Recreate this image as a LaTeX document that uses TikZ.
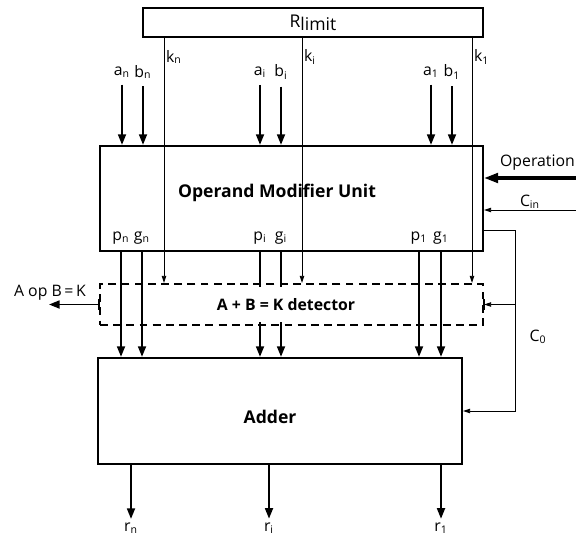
\documentclass[tikz,border=0pt]{standalone}
\usepackage{fontspec}
\setmainfont{Open Sans}
\usetikzlibrary{arrows.meta, positioning, calc}

\tikzset{
  unit/.style={draw, line width=1.3pt, inner sep=0pt},
  sig/.style={-{Triangle[length=6pt,width=4.5pt]}, line width=1.1pt},
  thinsig/.style={-{Triangle[length=4pt,width=2.5pt]}, line width=0.5pt},
  lbl/.style={font=\small, inner sep=1pt},
  title/.style={font=\bfseries},
}

\begin{document}
\begin{tikzpicture}
    \useasboundingbox (0,0) rectangle (11.52,-10.8);

    % blocks
    \node[unit, minimum width=6.8cm, minimum height=0.58cm] (rlim) at (6.26,-0.45) {R\raisebox{-1.5pt}{limit}};
    \node[unit, minimum width=7.66cm, minimum height=2.1cm] (omu) at (5.83,-3.97) {};
    \node[title] (omulbl) at (5.54,-3.86) {Operand Modifier Unit};
    \node[unit, dashed, dash pattern=on 4.5pt off 3pt, minimum width=7.66cm, minimum height=0.82cm] (det) at (5.83,-6.09) {};
    \node[unit, minimum width=7.28cm, minimum height=2.12cm] (add) at (5.6,-8.22) {};
    \node[title] (addlbl) at (5.4,-8.34) {Adder};

    % operand inputs
    \node[lbl] (an) at (2.44,-1.44) {a\textsubscript{n}};
    \node[lbl] (bn) at (2.86,-1.44) {b\textsubscript{n}};
    \node[lbl] (ai) at (5.2,-1.44) {a\textsubscript{i}};
    \node[lbl] (bi) at (5.62,-1.44) {b\textsubscript{i}};
    \node[lbl] (a1) at (8.62,-1.44) {a\textsubscript{1}};
    \node[lbl] (b1) at (9.04,-1.44) {b\textsubscript{1}};

    \draw[sig] ([yshift=-3pt]an.south) -- (an |- omu.north);
    \draw[sig] ([yshift=-3pt]bn.south) -- (bn |- omu.north);
    \draw[sig] ([yshift=-3pt]ai.south) -- (ai |- omu.north);
    \draw[sig] ([yshift=-3pt]bi.south) -- (bi |- omu.north);
    \draw[sig] ([yshift=-3pt]a1.south) -- (a1 |- omu.north);
    \draw[sig] ([yshift=-3pt]b1.south) -- (b1 |- omu.north);

    % limit lines
    \node[lbl, anchor=west] (kn) at (3.28,-1.14) {k\textsubscript{n}};
    \node[lbl, anchor=west] (ki) at (6.04,-1.14) {k\textsubscript{i}};
    \node[lbl, anchor=west] (k1) at (9.44,-1.14) {k\textsubscript{1}};

    \draw[thinsig] (kn.west |- rlim.south) -- (kn.west |- det.north);
    \draw[thinsig] (ki.west |- rlim.south) -- (ki.west |- det.north);
    \draw[thinsig] (k1.west |- rlim.south) -- (k1.west |- det.north);

    % propagate / generate
    \node[lbl] (pn) at (2.42,-4.76) {p\textsubscript{n}};
    \node[lbl] (gn) at (2.84,-4.76) {g\textsubscript{n}};
    \node[lbl] (pi) at (5.2,-4.76) {p\textsubscript{i}};
    \node[lbl] (gi) at (5.62,-4.76) {g\textsubscript{i}};
    \node[lbl] (p1) at (8.38,-4.76) {p\textsubscript{1}};
    \node[lbl] (g1) at (8.82,-4.76) {g\textsubscript{1}};

    \draw[sig] (pn |- omu.south) -- (pn |- add.north);
    \draw[sig] (gn |- omu.south) -- (gn |- add.north);
    \draw[sig] (pi |- omu.south) -- (pi |- add.north);
    \draw[sig] (gi |- omu.south) -- (gi |- add.north);
    \draw[sig] (p1 |- omu.south) -- (p1 |- add.north);
    \draw[sig] (g1 |- omu.south) -- (g1 |- add.north);

    \node[title, font=\bfseries\small, fill=white, inner xsep=1pt, inner ysep=6.5pt] (detlbl) at (5.72,-6.09) {A + B = K detector};

    % results
    \node[lbl] (rn) at (2.62,-10.56) {r\textsubscript{n}};
    \node[lbl] (ri) at (5.38,-10.56) {r\textsubscript{i}};
    \node[lbl] (r1) at (8.82,-10.56) {r\textsubscript{1}};

    \draw[sig] (rn |- add.south) -- ([yshift=1pt]rn.north);
    \draw[sig] (ri |- add.south) -- ([yshift=1pt]ri.north);
    \draw[sig] (r1 |- add.south) -- ([yshift=1pt]r1.north);

    % control and carry
    \node[lbl] (op) at (10.75,-3.26) {Operation};
    \coordinate (opin) at (11.52,-3.56);
    \draw[-{Triangle[length=8pt,width=5.5pt]}, line width=1.8pt] (opin) -- (opin -| omu.east);

    \node[lbl] (cin) at (10.6,-4.04) {C\textsubscript{in}};
    \coordinate (cinin) at (11.52,-4.2);
    \draw[thinsig] (cinin) -- (cinin -| omu.east);

    \coordinate (c0bend) at (10.3,-4.6);
    \draw[thinsig] (c0bend -| omu.east) -- (c0bend) |- (add.east);
    \draw[thinsig] (c0bend |- det.east) -- (det.east);
    \node[lbl] (c0) at (10.76,-6.74) {C\textsubscript{0}};

    % detector output
    \node[lbl] (aopb) at (1.0,-5.86) {A op B\,=\,K};
    \coordinate (aopbout) at (0.98,-6.09);
    \draw[sig] (det.west) -- (aopbout);
    \draw[line width=1.3pt] ([yshift=-3pt]det.west) -- ([yshift=3pt]det.west);
    \draw[line width=1.3pt] ([yshift=-3pt]det.east) -- ([yshift=3pt]det.east);
  \end{tikzpicture}
\end{document}
